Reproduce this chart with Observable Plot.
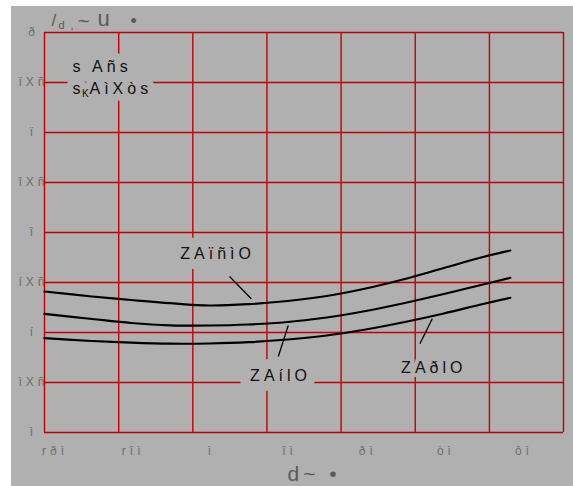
<!DOCTYPE html>
<html>
<head>
<meta charset="utf-8">
<script src="https://cdn.jsdelivr.net/npm/d3@7"></script>
<script src="https://cdn.jsdelivr.net/npm/@observablehq/plot@0.6"></script>
<style>
  html, body { margin: 0; padding: 0; background: #ffffff; }
  #wrap { position: absolute; left: 11px; top: 6px; width: 562px; height: 480px; background: #b0b0b0; }
  #wrap svg { display: block; }
</style>
</head>
<body>
<div id="wrap"></div>
<script>
// ---- data ----
const xTicks = [-40, -20, 0, 20, 40, 60, 80];
const xTickLabels = ["rðì", "rîì", "ì", "îì", "ðì", "òì", "ôì"];
const yTicks = [0, 0.5, 1, 1.5, 2, 2.5, 3, 3.5, 4];
const yTickLabels = ["ì", "ìXñ", "í", "íXñ", "î", "îXñ", "ï", "ïXñ", "ð"];
const gridX = [-42.18, -23.2, -4.24, 14.73, 33.7, 52.67, 71.65, 90.6];
const gridY = [0, 0.5, 1, 1.5, 2, 2.5, 3, 3.5, 4];

const xs        = [-42.2, -30, -20, -10, 0, 10, 20, 30, 40, 50, 60, 70, 77];
const curveTop  = [1.41, 1.36, 1.325, 1.293, 1.27, 1.283, 1.315, 1.365, 1.44, 1.535, 1.645, 1.755, 1.82];
const curveMid  = [1.187, 1.135, 1.095, 1.072, 1.07, 1.08, 1.105, 1.15, 1.215, 1.295, 1.385, 1.48, 1.547];
const curveBot  = [0.943, 0.915, 0.898, 0.888, 0.89, 0.903, 0.93, 0.97, 1.03, 1.105, 1.19, 1.285, 1.347];

const curveLabels = ["ZAïñìO", "ZAílO", "ZAðlO"];
const labelX = [1.6, 17.7, 56.9];
const labelY = [1.79, 0.57, 0.65];
const labelHalo = [20, 20, 8];
const leaderX1 = [5.16, 20.18, 57.03];
const leaderY1 = [1.56, 1.07, 1.137];
const leaderX2 = [10.72, 17.63, 53.86];
const leaderY2 = [1.337, 0.76, 0.887];

const legendLine1 = "s Añs";
const legendLine2a = "s";
const legendLine2b = "K";
const legendLine2c = "AìXòs";

// ---- build tables ----
const series = [
  ...xs.map((x, i) => ({x, y: curveTop[i], s: "top"})),
  ...xs.map((x, i) => ({x, y: curveMid[i], s: "mid"})),
  ...xs.map((x, i) => ({x, y: curveBot[i], s: "bot"}))
];
const labels = curveLabels.map((t, i) => ({t, x: labelX[i], y: labelY[i], h: labelHalo[i]}));
const leaders = leaderX1.map((x1, i) => ({x1, y1: leaderY1[i], x2: leaderX2[i], y2: leaderY2[i]}));

const ML = 33, MT = 26;
const BG = "#b0b0b0";
const GRID = "#c00000";
function at(str, X, Y, opts) {
  return Plot.text([str], {frameAnchor: "top-left", dx: X - ML, dy: Y - MT, ...opts});
}

const chart = Plot.plot({
  width: 562,
  height: 480,
  marginLeft: ML,
  marginRight: 10,
  marginTop: MT,
  marginBottom: 54,
  x: {domain: [-42.18, 90.6], axis: null},
  y: {domain: [0, 4], axis: null},
  style: {background: "transparent", fontFamily: "'Liberation Sans', Arial, sans-serif", letterSpacing: "4px"},
  marks: [
    Plot.ruleX(gridX, {stroke: GRID, strokeWidth: 1.4}),
    Plot.ruleY(gridY, {stroke: GRID, strokeWidth: 1.4}),
    // tick labels
    Plot.text(xTicks, {x: d => d, frameAnchor: "bottom", dy: 19, text: (d, i) => xTickLabels[i], fontSize: 12, fill: "#6e6e6e", lineAnchor: "middle", textAnchor: "middle", dx: 2}),
    Plot.text(yTicks, {y: d => d, frameAnchor: "left", dx: -11, text: (d, i) => yTickLabels[i], fontSize: 12, fill: "#6e6e6e", lineAnchor: "middle", textAnchor: "middle"}),
    // legend block
    at(legendLine1, 61, 65.5, {fontSize: 16, fill: "#111", textAnchor: "start", lineAnchor: "bottom", stroke: BG, strokeWidth: 16, letterSpacing: "5px"}),
    at(legendLine2c, 78, 87, {fontSize: 16, fill: "#111", textAnchor: "start", lineAnchor: "bottom", stroke: BG, strokeWidth: 14}),
    at(legendLine2a, 61, 87, {fontSize: 16, fill: "#111", textAnchor: "start", lineAnchor: "bottom", stroke: BG, strokeWidth: 14, letterSpacing: "0px"}),
    at(legendLine2b, 70.5, 90, {fontSize: 10, fill: "#111", textAnchor: "start", lineAnchor: "bottom", letterSpacing: "0px"}),
    // curve labels with background halo
    Plot.text(labels.filter(d => d.h > 10), {x: "x", y: "y", text: "t", fontSize: 16, fill: "#111", stroke: BG, strokeWidth: 20, lineAnchor: "middle", textAnchor: "middle", dx: 2}),
    Plot.text(labels.filter(d => d.h <= 10), {x: "x", y: "y", text: "t", fontSize: 16, fill: "#111", stroke: BG, strokeWidth: 8, lineAnchor: "middle", textAnchor: "middle", dx: 2}),
    // curves
    Plot.line(series, {x: "x", y: "y", z: "s", stroke: "#000", strokeWidth: 2.2, curve: "catmull-rom"}),
    // leader lines
    Plot.link(leaders, {x1: "x1", y1: "y1", x2: "x2", y2: "y2", stroke: "#000", strokeWidth: 1.3}),
    // title
    at("/", 40, 19, {fontSize: 17, fill: "#5a5a5a", textAnchor: "start", lineAnchor: "bottom", letterSpacing: "0px"}),
    at("d", 47, 22, {fontSize: 11, fill: "#5a5a5a", textAnchor: "start", lineAnchor: "bottom", letterSpacing: "0px"}),
    at(",", 59, 22, {fontSize: 11, fill: "#5a5a5a", textAnchor: "start", lineAnchor: "bottom", letterSpacing: "0px"}),
    at("~", 66, 21, {fontSize: 21, fill: "#5a5a5a", textAnchor: "start", lineAnchor: "bottom", letterSpacing: "0px"}),
    at("u", 86, 19, {fontSize: 22, fill: "#5a5a5a", textAnchor: "start", lineAnchor: "bottom", letterSpacing: "0px"}),
    at("•", 119, 14.5, {fontSize: 18, fill: "#5a5a5a", textAnchor: "start", lineAnchor: "middle", letterSpacing: "0px"}),
    // x axis label
    at("d~ •", 276, 474, {fontSize: 21, fill: "#5a5a5a", textAnchor: "start", lineAnchor: "bottom"})
  ]
});
document.getElementById("wrap").appendChild(chart);
</script>
</body>
</html>
